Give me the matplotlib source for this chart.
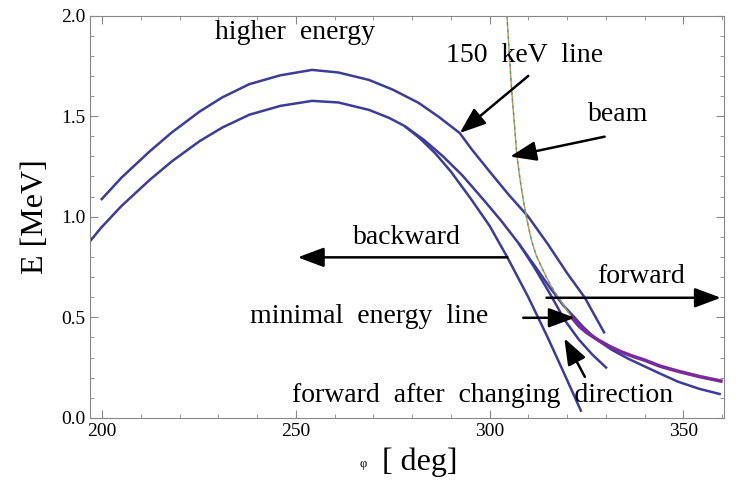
import matplotlib.pyplot as plt
from matplotlib.ticker import MultipleLocator

# upper curve ("higher energy")
a_x = [199.7, 205.0, 212.3, 218.0, 225.2, 231.0, 238.0, 246.0, 254.2, 261.0, 268.9, 275.0,
       281.7, 287.0, 292.3, 295.4, 300.0, 305.0, 310.0, 315.0, 320.0, 324.6, 329.7]
a_y = [1.083, 1.194, 1.325, 1.419, 1.523, 1.593, 1.659, 1.703, 1.730, 1.717, 1.680, 1.632,
       1.566, 1.495, 1.416, 1.335, 1.225, 1.108, 1.000, 0.865, 0.720, 0.597, 0.420]

# lower curve, common part
low_x = [196.9, 199.7, 205.0, 212.3, 218.0, 225.2, 231.0, 238.0, 246.0, 254.2, 261.0, 268.9, 274.0, 278.0]
low_y = [0.878, 0.944, 1.053, 1.183, 1.275, 1.376, 1.443, 1.507, 1.551, 1.576, 1.568, 1.531, 1.492, 1.452]

# branch going down fastest
b1_x = [278.0, 282.0, 286.0, 290.0, 295.4, 300.0, 304.6, 310.0, 315.0, 319.5, 323.7]
b1_y = [1.452, 1.390, 1.315, 1.225, 1.083, 0.955, 0.798, 0.600, 0.400, 0.210, 0.030]

# middle branch, ends at 330
b2_x = [278.0, 283.0, 288.0, 293.0, 298.5, 303.0, 307.5, 311.5, 315.5, 319.4, 323.0, 326.5, 330.3]
b2_y = [1.452, 1.383, 1.300, 1.205, 1.083, 0.980, 0.868, 0.750, 0.620, 0.486, 0.390, 0.315, 0.246]

# branch going on to 360
b3_x = [307.5, 311.5, 315.5, 319.0, 322.0, 324.0, 326.0, 328.0, 331.4, 336.0, 340.0, 344.0, 348.6, 354.0, 359.7]
b3_y = [0.868, 0.760, 0.650, 0.560, 0.498, 0.455, 0.418, 0.385, 0.340, 0.292, 0.256, 0.220, 0.180, 0.145, 0.117]

# beam
beam_x = [304.5, 305.1, 305.7, 306.4, 307.0, 307.8, 308.7, 309.7, 310.8, 312.0, 313.4, 314.7, 316.0, 317.7, 319.4, 321.2]
beam_y = [2.000, 1.810, 1.630, 1.465, 1.315, 1.195, 1.083, 0.980, 0.884, 0.810, 0.751, 0.698, 0.652, 0.600, 0.552, 0.500]
tail_x = [321.2, 323.0, 325.0, 328.0, 331.0, 334.0, 337.0, 340.0, 344.0, 348.6, 354.0, 359.7]
tail_y = [0.500, 0.458, 0.425, 0.387, 0.355, 0.328, 0.306, 0.287, 0.257, 0.232, 0.206, 0.183]

blue = '#3c3c9a'
plt.rcParams['font.family'] = 'Liberation Serif'

fig = plt.figure(figsize=(7.38, 4.87), dpi=100)
ax = fig.add_axes([0.122, 0.142, 0.859, 0.826])

for xs, ys in [(a_x, a_y), (low_x, low_y), (b1_x, b1_y), (b2_x, b2_y), (b3_x, b3_y)]:
    ax.plot(xs, ys, color=blue, lw=1.8, solid_capstyle='butt', solid_joinstyle='round')
ax.plot(beam_x, beam_y, color='#d09040', lw=1.0)
ax.plot(beam_x, beam_y, color='#40a0a0', lw=1.0, ls=(0, (2, 3)))
ax.plot(tail_x, tail_y, color='#7a2aa0', lw=2.6)

ax.set_xlim(196.9, 360.5)
ax.set_ylim(0, 2.0)
ax.xaxis.set_major_locator(MultipleLocator(50))
ax.xaxis.set_minor_locator(MultipleLocator(10))
ax.yaxis.set_major_locator(MultipleLocator(0.5))
ax.yaxis.set_minor_locator(MultipleLocator(0.1))
ax.yaxis.set_major_formatter(lambda v, p: f'{v:.1f}')
ax.tick_params(which='both', direction='in', top=True, right=True, color='#888888', labelsize=14)
ax.tick_params(which='major', length=6)
ax.tick_params(which='minor', length=3)
for s in ax.spines.values():
    s.set_color('#888888')

# axis labels
fig.text(420 / 738, 1 - 462 / 487, '[ deg]', fontsize=23, ha='center', va='center')
fig.text(363 / 738, 1 - 464 / 487, 'φ', fontsize=9, ha='center', va='center')
ax.set_ylabel('E [MeV]', fontsize=23, labelpad=8)

fs = 20
ax.text(249.9, 1.914, 'higher  energy', fontsize=fs, ha='center', va='center')
ax.text(309.0, 1.804, '150  keV  line', fontsize=fs, ha='center', va='center')
ax.text(333.2, 1.506, 'beam', fontsize=fs, ha='center', va='center')
ax.text(278.8, 0.899, 'backward', fontsize=fs, ha='center', va='center')
ax.text(339.2, 0.705, 'forward', fontsize=fs, ha='center', va='center')
ax.text(268.8, 0.506, 'minimal  energy  line', fontsize=fs, ha='center', va='center')
ax.text(298.3, 0.113, 'forward  after  changing  direction', fontsize=fs, ha='center', va='center')

arrows = [
    ((310.0, 1.700), (292.3, 1.416)),
    ((329.7, 1.398), (305.3, 1.299)),
    ((304.6, 0.798), (250.5, 0.798)),
    ((314.7, 0.597), (359.7, 0.597)),
    ((308.7, 0.4975), (322.0, 0.4975)),
    ((324.6, 0.204), (319.3, 0.395)),
]
for start, tip in arrows:
    ax.annotate('', xy=tip, xytext=start,
                arrowprops=dict(arrowstyle='-|>,head_length=0.8,head_width=0.3',
                                color='black', lw=1.8, mutation_scale=20,
                                shrinkA=0, shrinkB=0))

fig.savefig('out.png')
